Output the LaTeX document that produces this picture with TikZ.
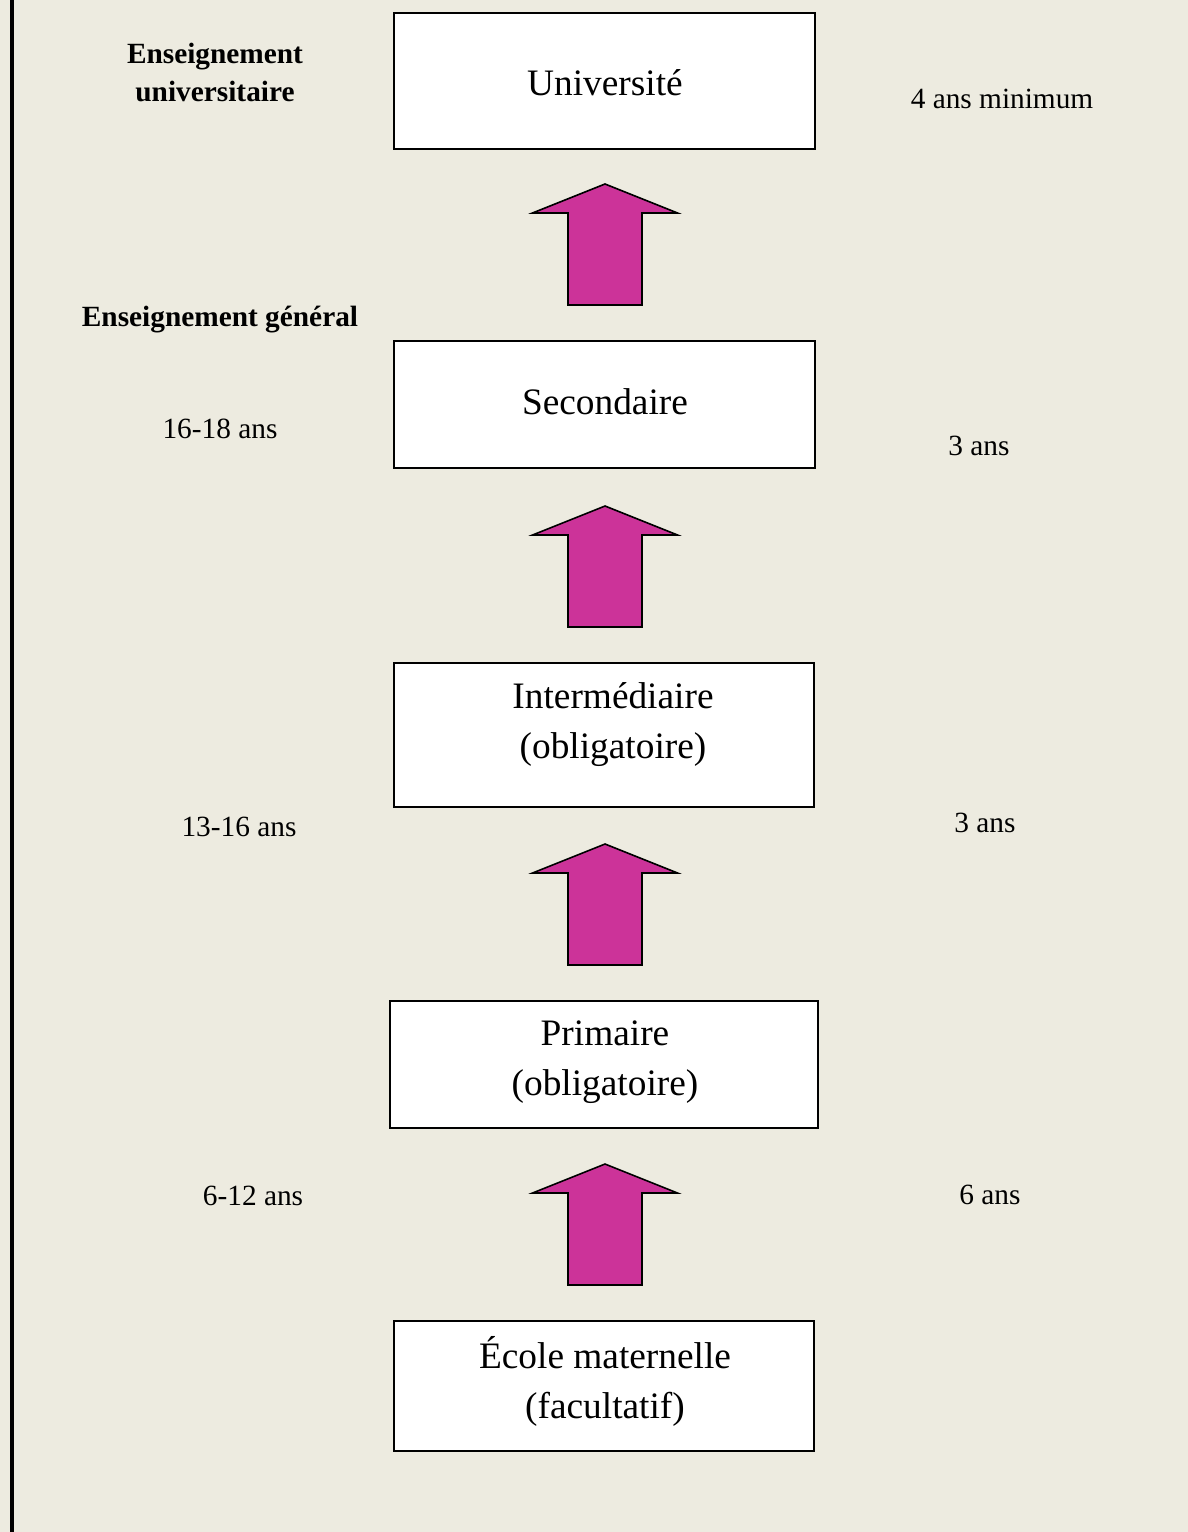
\documentclass[tikz,border=0pt]{standalone}
\usepackage{fontspec}
\setmainfont{Liberation Serif}
\definecolor{bgbeige}{HTML}{EDEBE0}
\definecolor{arrowmag}{HTML}{CC3399}
\begin{document}
\begin{tikzpicture}[x=0.75pt,y=-0.75pt,
  box/.style={draw=black,line width=1.5pt,fill=white,inner sep=0pt,rectangle},
  boxtext/.style={align=center,inner sep=0pt,font=\fontsize{28}{37.5}\selectfont},
  sidetext/.style={align=center,inner sep=0pt,font=\fontsize{22}{29}\selectfont},
  headtext/.style={align=center,inner sep=0pt,font=\fontsize{22}{29}\selectfont\bfseries},
  uparrow/.pic={\draw[fill=arrowmag,draw=black,line width=1.2pt,line join=miter]
    (0,0) -- (72.5,29) -- (37,29) -- (37,121) -- (-37,121) -- (-37,29) -- (-72.5,29) -- cycle;}]
\useasboundingbox (0,0) rectangle (1188,1532);
\fill[bgbeige] (0,0) rectangle (1188,1532);
\fill[black] (10,0) rectangle (14,1532);

% boxes
\node[box,minimum width=315.75pt,minimum height=102pt] (univ) at (604.5,81) {};
\node[box,minimum width=315.75pt,minimum height=95.25pt] (second) at (604.5,404.5) {};
\node[box,minimum width=315pt,minimum height=108pt] (inter) at (604,735) {};
\node[box,minimum width=321pt,minimum height=95.25pt] (prim) at (604,1064.5) {};
\node[box,minimum width=315pt,minimum height=97.5pt] (ecole) at (604,1386) {};

% box texts
\node[boxtext] (tuniv) at (605,83) {Université};
\node[boxtext] (tsecond) at (605,402) {Secondaire};
\node[boxtext] (tinter) at (613,725) {Intermédiaire\\(obligatoire)};
\node[boxtext] (tprim) at (605,1062.5) {Primaire\\(obligatoire)};
\node[boxtext] (tecole) at (605,1381) {École maternelle\\(facultatif)};

% arrows
\pic at (605,184) {uparrow};
\pic at (605,506) {uparrow};
\pic at (605,844) {uparrow};
\pic at (605,1164) {uparrow};

% side labels
\node[headtext] (hu) at (215,72.5) {Enseignement\\universitaire};
\node[headtext] (hg) at (220,320) {Enseignement général};
\node[sidetext] (l1) at (1002,99) {4 ans minimum};
\node[sidetext] (l2) at (220,429) {16-18 ans};
\node[sidetext] (l3) at (979,446) {3 ans};
\node[sidetext] (l4) at (239,827) {13-16 ans};
\node[sidetext] (l5) at (985,823) {3 ans};
\node[sidetext] (l6) at (253,1196) {6-12 ans};
\node[sidetext] (l7) at (990,1195) {6 ans};
\end{tikzpicture}
\end{document}
